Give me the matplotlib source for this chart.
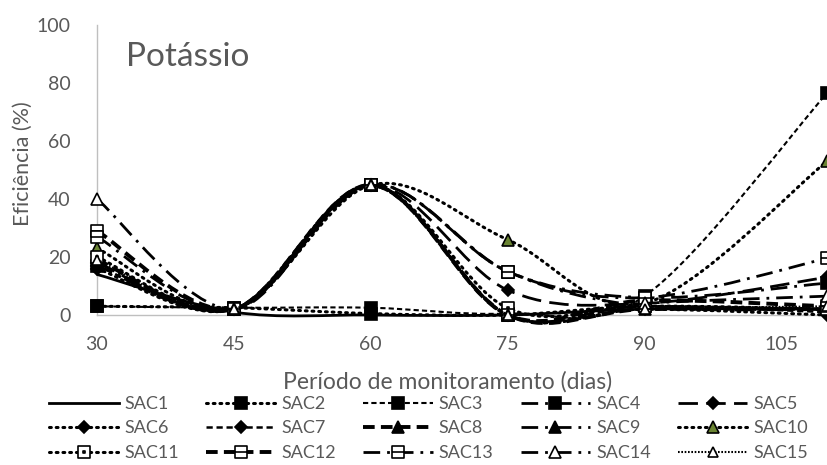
import matplotlib
matplotlib.use("Agg")
import matplotlib.pyplot as plt
import numpy as np
from matplotlib.path import Path
from matplotlib.patches import PathPatch
from matplotlib.lines import Line2D

plt.rcParams['font.family'] = ['Lato', 'DejaVu Sans']

# ---------------- data ----------------
days = [30, 45, 60, 75, 90, 110]
series_names = ["SAC1", "SAC2", "SAC3", "SAC4", "SAC5", "SAC6", "SAC7", "SAC8",
                "SAC9", "SAC10", "SAC11", "SAC12", "SAC13", "SAC14", "SAC15"]
SAC1 = [14, 1, 0, 0, 2, 2]
SAC2 = [3, 2.5, 0.5, 0, 3, 2]
SAC3 = [3, 2.5, 2.5, 0.5, 6.5, 76.5]
SAC4 = [17, 2, 44.8, 15, 6, 11]
SAC5 = [18, 2, 44.8, 8.6, 4, 13]
SAC6 = [16, 2, 44.8, 0, 2, 0]
SAC7 = [17, 2, 44.8, 0, 3, 1]
SAC8 = [19, 2, 44.8, 0, 2, 2]
SAC9 = [18, 2, 44.8, 15, 3, 2]
SAC10 = [23, 2, 44.8, 26, 4, 53]
SAC11 = [20, 2, 44.8, 2.4, 3, 2]
SAC12 = [29, 2, 44.8, 0, 5, 3]
SAC13 = [27, 2, 44.8, 15, 6, 19.5]
SAC14 = [40, 2, 44.8, 0, 4, 6.5]
SAC15 = [19, 2, 44.8, 0, 2, 3]
values = [SAC1, SAC2, SAC3, SAC4, SAC5, SAC6, SAC7, SAC8, SAC9, SAC10,
          SAC11, SAC12, SAC13, SAC14, SAC15]
xticks = [30, 45, 60, 75, 90, 105]
yticks = [0, 20, 40, 60, 80, 100]

# ---------------- styles ----------------
box_minus = Path([(-1, -1), (1, -1), (1, 1), (-1, 1), (-1, -1), (-1, 0), (1, 0)],
                 [Path.MOVETO, Path.LINETO, Path.LINETO, Path.LINETO, Path.CLOSEPOLY,
                  Path.MOVETO, Path.LINETO])
box_dot = Path([(-1, -1), (1, -1), (1, 1), (-1, 1), (-1, -1),
                (-0.15, -0.15), (0.15, -0.15), (0.15, 0.15), (-0.15, 0.15), (-0.15, -0.15)],
               [Path.MOVETO, Path.LINETO, Path.LINETO, Path.LINETO, Path.CLOSEPOLY,
                Path.MOVETO, Path.LINETO, Path.LINETO, Path.LINETO, Path.CLOSEPOLY])

green = '#6A8432'
dot = (0, (0.6, 1.6))
dash = (0, (2.5, 1.5))
ldd = (0, (6, 2.5, 1, 2.5))
ld = (0, (7, 3))
thick = (0, (3, 1.6))
sqdot = (0, (0.8, 0.8))
styles = [
    dict(ls='-', lw=2.0, marker=None, mfc='k', ms=0),
    dict(ls=dot, lw=2.2, marker='s', mfc='k', ms=8),
    dict(ls=dash, lw=1.5, marker='s', mfc='k', ms=8),
    dict(ls=ldd, lw=2.0, marker='s', mfc='k', ms=8),
    dict(ls=ld, lw=2.0, marker='D', mfc='k', ms=6.5),
    dict(ls=dot, lw=2.2, marker='D', mfc='k', ms=6.5),
    dict(ls=dash, lw=1.8, marker='D', mfc='k', ms=6.5),
    dict(ls=thick, lw=2.8, marker='^', mfc='k', ms=8),
    dict(ls=ldd, lw=2.0, marker='^', mfc='k', ms=8),
    dict(ls=dot, lw=2.2, marker='^', mfc=green, ms=8),
    dict(ls=dot, lw=2.2, marker=box_dot, mfc='white', ms=8),
    dict(ls=thick, lw=2.8, marker=box_minus, mfc='white', ms=8),
    dict(ls=ldd, lw=2.0, marker=box_minus, mfc='white', ms=8),
    dict(ls=ldd, lw=2.0, marker='^', mfc='white', ms=8),
    dict(ls=sqdot, lw=1.5, marker='^', mfc='white', ms=7),
]


def smooth_path(x, y):
    """Excel-like smoothed line as cubic Bezier segments through the data points."""
    pts = np.column_stack([x, y]).astype(float)
    n = len(pts)
    verts = [pts[0]]
    codes = [Path.MOVETO]
    for i in range(n - 1):
        p0 = pts[i - 1] if i > 0 else pts[i]
        p1 = pts[i]
        p2 = pts[i + 1]
        p3 = pts[i + 2] if i + 2 < n else pts[i + 1]
        c1 = p1 + (p2 - p0) / 6.0
        c2 = p2 - (p3 - p1) / 6.0
        verts += [c1, c2, p2]
        codes += [Path.CURVE4] * 3
    return Path(verts, codes)


# ---------------- figure ----------------
fig = plt.figure(figsize=(8.27, 4.65), dpi=100)
ax = fig.add_axes([97 / 827, 1 - 315 / 465, 1 - 97 / 827, 290 / 465])
ax.set_xlim(30, 110)
ax.set_ylim(0, 100)

handles = []
for k, (name, vals, st) in enumerate(zip(series_names, values, styles)):
    z = 3 + k
    patch = PathPatch(smooth_path(days, vals), fill=False, edgecolor='k',
                      lw=st['lw'], linestyle=st['ls'], zorder=z, clip_on=False,
                      capstyle='round' if st['ls'] == dot else 'butt')
    ax.add_patch(patch)
    if st['marker'] is not None:
        ax.plot(days, vals, linestyle='none', marker=st['marker'], ms=st['ms'],
                mfc=st['mfc'], mec='k', mew=1.2, zorder=z + 0.5, clip_on=False)
    h = Line2D([0], [0], color='k', lw=st['lw'], linestyle=st['ls'],
               marker=st['marker'], ms=st['ms'] if st['marker'] else 0,
               mfc=st['mfc'], mec='k', mew=1.2,
               dash_capstyle='round' if st['ls'] == dot else 'butt')
    handles.append(h)

ax.set_xticks(xticks)
ax.set_yticks(yticks)
ax.tick_params(length=0, labelsize=14, colors='#595959')
ax.tick_params(axis='x', pad=15)
ax.tick_params(axis='y', pad=19)
for s in ['top', 'right']:
    ax.spines[s].set_visible(False)
for s in ['left', 'bottom']:
    ax.spines[s].set_color('#BFBFBF')
    ax.spines[s].set_linewidth(1.0)
ax.patch.set_alpha(0)

fig.text(126 / 827, 1 - 66 / 465, "Potássio", fontsize=24, color='#595959',
         ha='left', va='baseline')
fig.text(23 / 827, 1 - 164 / 465, "Eficiência (%)", fontsize=15.5, color='#595959',
         rotation=90, ha='center', va='center')
fig.text(448 / 827, 1 - 382 / 465, "Período de monitoramento (dias)", fontsize=16.5,
         color='#595959', ha='center', va='center')

# legend: row-major order with 5 columns
order = []
for c in range(5):
    for r in range(3):
        order.append(r * 5 + c)
leg = fig.legend([handles[i] for i in order], [series_names[i] for i in order],
                 ncol=5, loc='upper left', bbox_to_anchor=(49 / 827, 1 - 396 / 465),
                 frameon=False, fontsize=13, handlelength=3.85, handletextpad=0.33,
                 columnspacing=1.5, labelspacing=0.47, borderpad=0, borderaxespad=0,
                 numpoints=1)
for t in leg.get_texts():
    t.set_color('#595959')

fig.savefig("out.png", dpi=100)
